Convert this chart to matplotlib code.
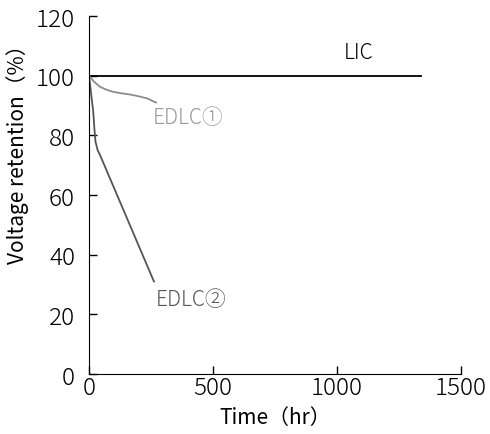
import matplotlib
matplotlib.use("Agg")
import matplotlib.pyplot as plt

plt.rcParams['font.family'] = ['Noto Sans CJK JP', 'DejaVu Sans']
plt.rcParams['font.weight'] = 'light'

# LIC stays flat at 100 %
lic_time = [0, 1340]
lic_ret = [100, 100]

# EDLC(1): slow drop
edlc1_time = [0, 20, 44, 70, 97, 130, 165, 200, 234, 270]
edlc1_ret = [100, 98.0, 96.3, 95.3, 94.6, 94.1, 93.7, 93.1, 92.4, 91.0]

# EDLC(2): fast drop
edlc2_time = [0, 10, 17, 22, 26, 35, 44, 262]
edlc2_ret = [100, 93, 88, 82, 78, 75, 73.5, 31]

fig = plt.figure(figsize=(4.9, 4.35), dpi=100)
ax = fig.add_axes([0.1816, 0.1379, 0.7592, 0.823])

ax.plot(lic_time, lic_ret, color='black', lw=1.3)
ax.plot(edlc1_time, edlc1_ret, color='#8c8c8c', lw=1.3)
ax.plot(edlc2_time, edlc2_ret, color='#555555', lw=1.3)

ax.text(1089, 108, 'LIC', color='black', fontsize=15, ha='center', va='center')
ax.text(400, 86, 'EDLC①', color='#999999', fontsize=15, ha='center', va='center')
ax.text(412, 25, 'EDLC②', color='#555555', fontsize=15, ha='center', va='center')

ax.set_xlim(0, 1500)
ax.set_ylim(0, 120)
ax.set_xticks([0, 500, 1000, 1500])
ax.set_yticks([0, 20, 40, 60, 80, 100, 120])
ax.tick_params(direction='in', length=6, width=1, labelsize=17.5)
ax.tick_params(axis='x', pad=1)
ax.tick_params(axis='y', pad=10)
ax.spines['top'].set_visible(False)
ax.spines['right'].set_visible(False)

ax.set_xlabel('Time（hr）', fontsize=15, labelpad=4)
ax.set_ylabel('Voltage retention（%）', fontsize=15)
ax.yaxis.set_label_coords(-0.162, 0.63)

fig.savefig('out.png', dpi=100)
